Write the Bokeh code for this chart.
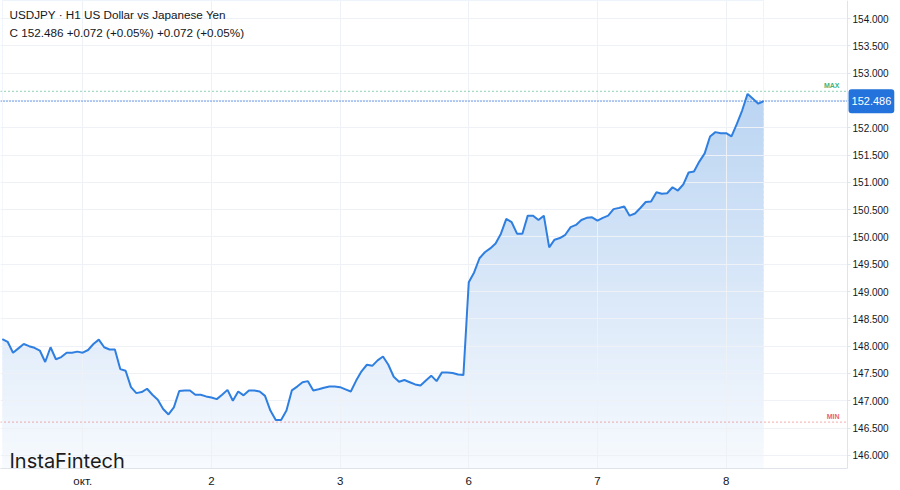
import numpy as np
from bokeh.plotting import figure
from bokeh.models import FixedTicker, PrintfTickFormatter, Label, Range1d
from bokeh.embed import file_html
from bokeh.resources import INLINE

# ---------------- data ----------------
symbol_title = "USDJPY · H1 US Dollar vs Japanese Yen"
close_prices = [
    148.13, 148.08, 147.88, 147.96, 148.04, 148.00, 147.97, 147.92, 147.71, 147.98,
    147.76, 147.80, 147.88, 147.88, 147.90, 147.88, 147.93, 148.04, 148.12, 147.98,
    147.94, 147.94, 147.58, 147.55, 147.25, 147.14, 147.16, 147.22, 147.11, 147.02,
    146.85, 146.75, 146.88, 147.18, 147.19, 147.19, 147.11, 147.11, 147.08, 147.06,
    147.03, 147.11, 147.20, 147.00, 147.17, 147.10, 147.19, 147.19, 147.17, 147.09,
    146.82, 146.65, 146.65, 146.82, 147.19, 147.26, 147.34, 147.36, 147.19, 147.21,
    147.24, 147.26, 147.26, 147.25, 147.21, 147.17, 147.37, 147.54, 147.66, 147.64,
    147.74, 147.81, 147.66, 147.44, 147.35, 147.38, 147.34, 147.30, 147.28, 147.37,
    147.46, 147.36, 147.52, 147.52, 147.51, 147.48, 147.47, 149.17, 149.35, 149.61,
    149.72, 149.79, 149.88, 150.06, 150.33, 150.27, 150.06, 150.06, 150.39, 150.39,
    150.31, 150.39, 149.81, 149.95, 149.98, 150.04, 150.18, 150.22, 150.31, 150.35,
    150.36, 150.30, 150.35, 150.39, 150.51, 150.53, 150.56, 150.39, 150.43, 150.53,
    150.64, 150.65, 150.82, 150.79, 150.80, 150.91, 150.85, 150.96, 151.18, 151.20,
    151.38, 151.53, 151.84, 151.92, 151.90, 151.90, 151.84, 152.07, 152.32, 152.62,
    152.53, 152.44, 152.486,
]
bar_index = list(range(len(close_prices)))   # hourly bars
day_tick_bars = [15, 39, 63, 87, 111, 135]
day_tick_labels = ["окт.", "2", "3", "6", "7", "8"]
price_ticks = [146.0, 146.5, 147.0, 147.5, 148.0, 148.5, 149.0, 149.5, 150.0,
               150.5, 151.0, 151.5, 152.0, 152.5, 153.0, 153.5, 154.0]
last_close = 152.486
change_abs = 0.072
change_pct = 0.05
max_level = 152.665
min_level = 146.61

# ---------------- figure ----------------
x_lo, x_edge, x_hi = -0.334, 157.64, 167.52   # x_edge: where the price scale starts
y_lo, y_hi = 145.76, 154.33

p = figure(width=900, height=490, x_range=Range1d(x_lo, x_hi), y_range=Range1d(y_lo, y_hi),
           y_axis_location="right", output_backend="svg", toolbar_location=None,
           min_border_left=0, min_border_top=0, min_border_right=0, min_border_bottom=22)
p.outline_line_color = None
p.background_fill_color = "white"
p.border_fill_color = "white"

# price scale (drawn at x_edge)
p.yaxis.fixed_location = x_edge
p.yaxis.ticker = FixedTicker(ticks=price_ticks)
p.yaxis.formatter = PrintfTickFormatter(format="%.3f")
p.yaxis.major_label_text_font = "Liberation Sans"
p.yaxis.major_label_text_font_size = "10px"
p.yaxis.major_label_text_color = "#131722"
p.yaxis.axis_line_color = "#dfe3ea"
p.yaxis.major_tick_line_color = "#dfe3ea"
p.yaxis.major_tick_in = 0
p.yaxis.major_tick_out = 3
p.yaxis.minor_tick_line_color = None
p.yaxis.major_label_standoff = 2

# time scale
p.xaxis.ticker = FixedTicker(ticks=day_tick_bars)
p.xaxis.major_label_overrides = {b: t for b, t in zip(day_tick_bars, day_tick_labels)}
p.xaxis.major_label_text_font = "Liberation Sans"
p.xaxis.major_label_text_font_size = "11.5px"
p.xaxis.major_label_text_color = "#131722"
p.xaxis.axis_line_color = "#dfe3ea"
p.xaxis.bounds = (x_lo, x_edge)
p.xaxis.major_tick_line_color = None
p.xaxis.major_tick_out = 0
p.xaxis.major_tick_in = 0
p.xaxis.minor_tick_line_color = None
p.xaxis.major_label_standoff = 6

p.xgrid.grid_line_color = "#eef1f6"
p.ygrid.grid_line_color = "#eef1f6"

# gradient area: horizontal strips + white mask above the line
n_strips = 90
levels = np.linspace(y_lo, y_hi, n_strips + 1)
top_rgb = np.array([186, 212, 242])
bot_rgb = np.array([247, 250, 254])
step = levels[1] - levels[0]
cols = []
for lv in levels[:-1]:
    f = np.clip((lv + step / 2 - y_lo) / (max(close_prices) - y_lo), 0, 1)
    c = bot_rgb + (top_rgb - bot_rgb) * f
    cols.append("#%02x%02x%02x" % tuple(int(round(v)) for v in c))
p.quad(left=bar_index[0], right=bar_index[-1], bottom=levels[:-1], top=levels[1:] + step * 0.3,
       fill_color=cols, line_color=None, level="image")
p.varea(x=bar_index, y1=close_prices, y2=[y_hi + 1] * len(bar_index),
        fill_color="white", level="image")

# blank price-scale strip (hides grid lines there)
p.quad(left=x_edge, right=x_hi + 1, bottom=y_lo - 1, top=y_hi + 1,
       fill_color="white", line_color=None)

# horizontal reference lines (up to the price scale)
p.segment(x0=x_lo, x1=x_edge, y0=max_level, y1=max_level, line_color="#4cbb85",
          line_dash="1 3", line_width=1.2)
p.segment(x0=x_lo, x1=x_edge, y0=min_level, y1=min_level, line_color="#f07a7a",
          line_dash="1 3", line_width=1.2)
p.segment(x0=x_lo, x1=x_edge, y0=last_close, y1=last_close, line_color="#1c66e0",
          line_dash="1 2", line_width=1.3)

# price line
p.line(bar_index, close_prices, line_color="#2f7fe0", line_width=2)

p.add_layout(Label(x=x_edge, y=max_level, x_offset=-8, y_offset=2, text="MAX",
                   text_align="right", text_baseline="bottom", text_font="Liberation Sans",
                   text_font_size="7px", text_font_style="bold", text_color="#3fb47b"))
p.add_layout(Label(x=x_edge, y=min_level, x_offset=-8, y_offset=2, text="MIN",
                   text_align="right", text_baseline="bottom", text_font="Liberation Sans",
                   text_font_size="7px", text_font_style="bold", text_color="#ef5f6b"))

# last price box on the price scale
p.add_layout(Label(x=x_edge, y=last_close, x_offset=1, text="%.3f" % last_close,
                   text_align="left", text_baseline="middle", text_font="Liberation Sans",
                   text_font_size="11px", text_color="white",
                   background_fill_color="#2473dc", padding=(3, 8), border_radius=3))

# legend texts
p.add_layout(Label(x=x_lo, y=y_hi, x_offset=9, y_offset=-7, text=symbol_title,
                   text_align="left", text_baseline="top", text_font="Liberation Sans",
                   text_font_size="11.7px", text_color="#131722"))
legend2 = "C %.3f +%.3f (+%.2f%%) +%.3f (+%.2f%%)" % (last_close, change_abs, change_pct,
                                                     change_abs, change_pct)
p.add_layout(Label(x=x_lo, y=y_hi, x_offset=9, y_offset=-25, text=legend2,
                   text_align="left", text_baseline="top", text_font="Liberation Sans",
                   text_font_size="11.7px", text_color="#131722"))

# watermark logo
p.add_layout(Label(x=x_lo, y=y_lo, x_offset=9, y_offset=8, text="InstaFintech",
                   text_align="left", text_baseline="alphabetic", text_font="Inter",
                   text_font_size="20px", text_color="#1c1c1c"))

open("out.html", "w").write(file_html(p, INLINE))
